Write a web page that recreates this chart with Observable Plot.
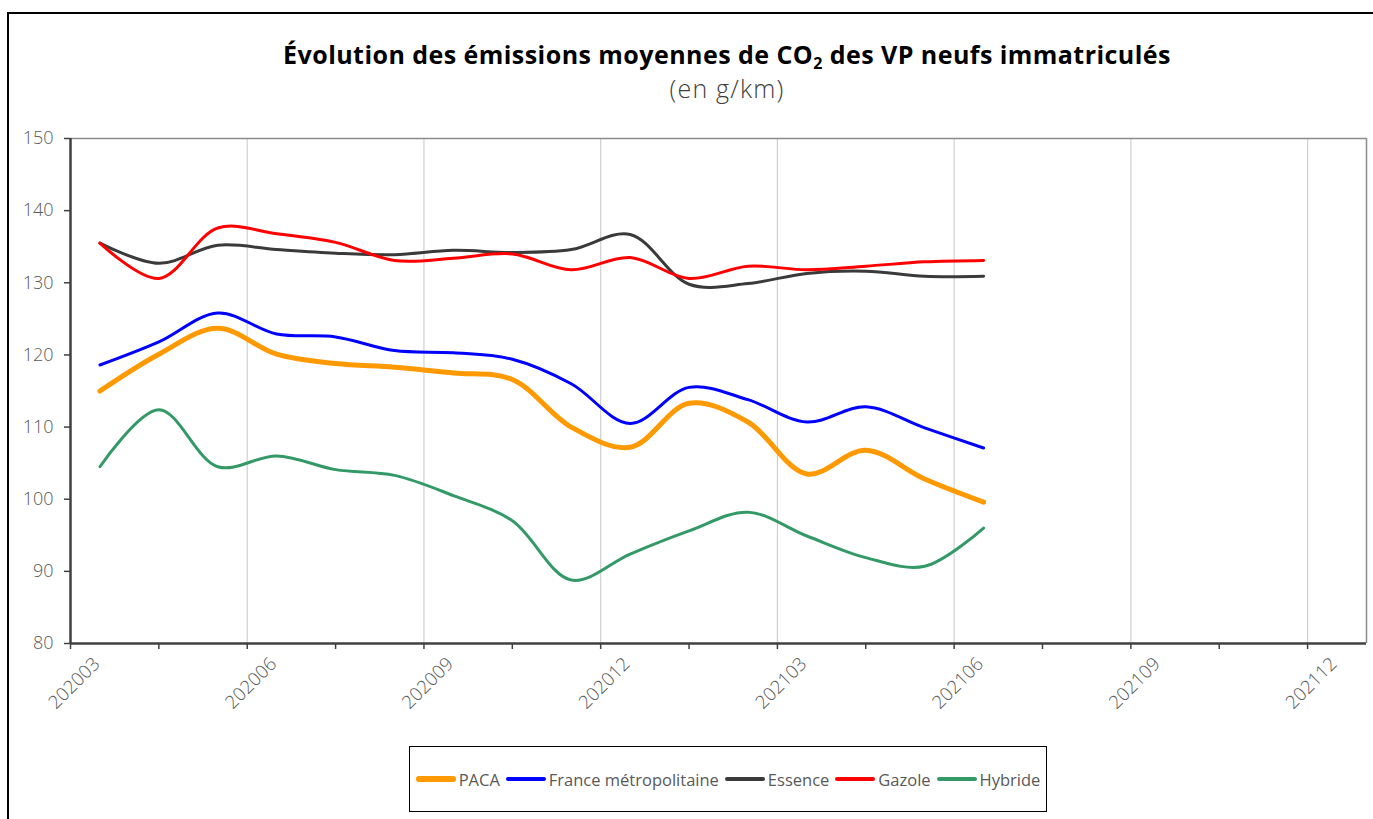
<!DOCTYPE html>
<html>
<head>
<meta charset="utf-8">
<script src="https://cdn.jsdelivr.net/npm/d3@7"></script>
<script src="https://cdn.jsdelivr.net/npm/@observablehq/plot@0.6"></script>
<style>
  html, body { margin: 0; padding: 0; background: #fff; overflow: hidden; }
  body { width: 1373px; height: 819px; position: relative; font-family: "Open Sans", sans-serif; }
  #frame { position: absolute; left: 7px; top: 12px; width: 1400px; height: 900px; border: 2.5px solid #000; box-sizing: border-box; }
  #chart { position: absolute; left: 0; top: 0; }
  #title { position: absolute; left: 227px; width: 1000px; top: 39px; text-align: center; font-weight: 700; font-size: 25px; letter-spacing: 0.45px; color: #000; line-height: 30px; }
  #title sub { font-size: 16px; vertical-align: -5px; line-height: 0; }
  #subtitle { position: absolute; left: 227px; width: 1000px; top: 72px; text-align: center; font-weight: 300; font-size: 25px; letter-spacing: 1.2px; color: #404040; line-height: 32px; }
  #legend { position: absolute; left: 409px; top: 746px; width: 638px; height: 66px; border: 1px solid #000; box-sizing: border-box; display: flex; align-items: center; justify-content: center; background: #fff; }
  .item { display: flex; align-items: center; font-size: 16.5px; color: #595959; margin-right: 6px; white-space: nowrap; }
  .item:last-child { margin-right: 0; }
  .sw { display: inline-block; width: 40px; border-radius: 3px; margin-right: 3px; }
</style>
</head>
<body>
<div id="frame"></div>
<div id="chart"></div>
<div id="title">Évolution des émissions moyennes de CO<sub>2</sub> des VP neufs immatriculés</div>
<div id="subtitle">(en g/km)</div>
<div id="legend"></div>
<script>
// Months (one point per month, 202003 → 202106)
const months = ["202003","202004","202005","202006","202007","202008","202009","202010","202011","202012","202101","202102","202103","202104","202105","202106"];
// Axis tick labels (every 3 months, 202003 → 202112)
const xTickLabels = ["202003","202006","202009","202012","202103","202106","202109","202112"];

const paca    = [115.0,120.1,123.7,120.1,118.8,118.3,117.5,116.6,110.0,107.2,113.3,110.7,103.5,106.8,102.8,99.6];
const france  = [118.6,121.8,125.8,122.9,122.5,120.6,120.3,119.4,116.0,110.5,115.5,113.8,110.7,112.8,109.9,107.1];
const essence = [135.5,132.7,135.2,134.6,134.1,133.9,134.5,134.2,134.6,136.7,129.8,129.9,131.3,131.6,130.9,130.9];
const gazole  = [135.5,130.6,137.6,136.8,135.6,133.1,133.4,134.0,131.8,133.5,130.6,132.3,131.8,132.3,132.9,133.1];
const hybride = [104.5,112.4,104.5,106.0,104.1,103.3,100.5,97.0,88.8,92.4,95.6,98.2,94.9,91.9,90.7,96.0];

const series = [
  {name: "PACA", values: paca, color: "#FF9900", width: 5},
  {name: "France métropolitaine", values: france, color: "#0000FF", width: 3},
  {name: "Essence", values: essence, color: "#3A3A3A", width: 3},
  {name: "Gazole", values: gazole, color: "#FF0000", width: 3},
  {name: "Hybride", values: hybride, color: "#339966", width: 3}
];

// month index: first label month = 0; each point sits mid-month
const monthPos = (m) => {
  const y = +m.slice(0,4), mo = +m.slice(4);
  return (y - 2020) * 12 + (mo - 3) + 0.5;
};
const labelPos = (m) => monthPos(m) - 0.5;

const lineMarks = series.map(s =>
  Plot.line(months.map((m, i) => ({x: monthPos(m), y: s.values[i]})), {
    x: "x", y: "y", stroke: s.color, strokeWidth: s.width, curve: "catmull-rom", strokeLinecap: "round", strokeLinejoin: "round"
  })
);

const labelVals = xTickLabels.map(labelPos);
const gridVals = labelVals.filter(v => v > 0);
const tickVals = d3.range(0, 21.01, 1.5);

const chart = Plot.plot({
  width: 1373,
  height: 819,
  marginTop: 138,
  marginLeft: 70,
  marginRight: 7,
  marginBottom: 176,
  style: {fontFamily: "Open Sans, sans-serif", background: "transparent"},
  x: {domain: [0, 22], axis: null},
  y: {domain: [80, 150], axis: null},
  marks: [
    Plot.ruleX(gridVals, {stroke: "#d0d0d0", strokeWidth: 1.2}),
    Plot.ruleY([150], {stroke: "#8a8a8a", strokeWidth: 1.5}),
    Plot.ruleX([22], {stroke: "#8a8a8a", strokeWidth: 1.5}),
    Plot.axisY(d3.range(80, 151, 10), {tickSize: 6, tickPadding: 11, fontSize: 18, fill: "#595959", stroke: "#404040", strokeWidth: 1.5, label: null, fontWeight: 300}),
    Plot.axisX(tickVals, {tickSize: 6, tickFormat: () => "", stroke: "#404040", strokeWidth: 1.5, label: null}),
    Plot.ruleX([0], {stroke: "#404040", strokeWidth: 2.5}),
    Plot.ruleY([80], {stroke: "#404040", strokeWidth: 2.5}),
    Plot.text(xTickLabels, {x: labelPos, text: d => d, frameAnchor: "bottom", rotate: -45, textAnchor: "middle", dx: 8, dy: 44, fontSize: 18.5, fill: "#595959", fontWeight: 300}),
    ...lineMarks
  ]
});
document.getElementById("chart").appendChild(chart);

const legend = document.getElementById("legend");
series.forEach(s => {
  const it = document.createElement("span");
  it.className = "item";
  const sw = document.createElement("span");
  sw.className = "sw";
  sw.style.background = s.color;
  sw.style.height = (s.width === 5 ? 6 : 4) + "px";
  const tx = document.createElement("span");
  tx.textContent = s.name;
  it.appendChild(sw); it.appendChild(tx);
  legend.appendChild(it);
});
</script>
</body>
</html>
